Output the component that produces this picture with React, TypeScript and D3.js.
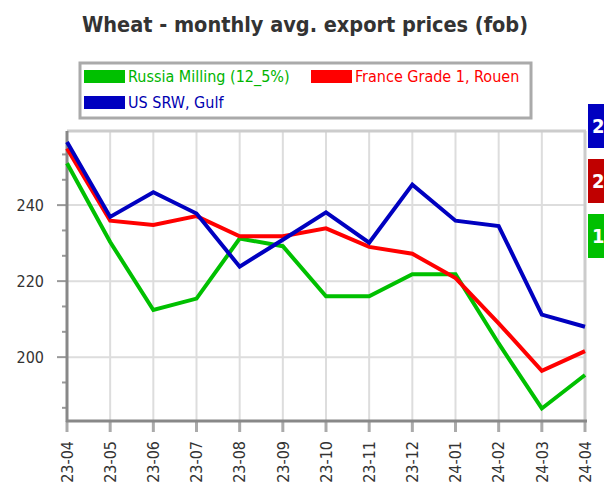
import React from 'react';
import * as d3 from 'd3';

const months = ['23-04', '23-05', '23-06', '23-07', '23-08', '23-09', '23-10', '23-11', '23-12', '24-01', '24-02', '24-03', '24-04'];
const russia = [251, 230.3, 212.4, 215.4, 231.2, 229.2, 216, 216, 221.8, 221.8, 203.6, 186.5, 195.3];
const france = [254.9, 235.9, 234.8, 237.1, 231.8, 231.8, 233.9, 229.0, 227.2, 220.8, 208.9, 196.4, 201.6];
const usSrw = [256.6, 236.9, 243.4, 237.8, 223.8, 230.9, 238.1, 230.1, 245.4, 235.9, 234.5, 211.2, 208.0];
const yTicks = [200, 220, 240];
const seriesNames = ['Russia Milling (12_5%)', 'France Grade 1, Rouen', 'US SRW, Gulf'];

const W = 604, H = 483;
const FONT = '"DejaVu Sans Condensed", "DejaVu Sans", sans-serif';

export default function App() {
  const left = 67, right = 585, top = 131, bottom = 421;
  const x = d3.scalePoint<string>().domain(months).range([left, right]);
  const y = d3.scaleLinear().domain([183.2, 259.5]).range([bottom, top]);
  const minor = d3.range(-2, 9)
    .filter(k => k % 3 !== 0)
    .map(k => 200 + (k * 20) / 3)
    .filter(v => v > 183.2 && v < 259.5);
  const line = d3.line<number>().x((_, i) => x(months[i]) as number).y(d => y(d));

  const series = [
    { name: seriesNames[0], data: russia, color: '#00c000', text: '#00b400', box: '#00c000' },
    { name: seriesNames[1], data: france, color: '#ff0000', text: '#ff0000', box: '#c00000' },
    { name: seriesNames[2], data: usSrw, color: '#0000c0', text: '#0000b0', box: '#0000c0' },
  ];
  const boxOrder = [series[2], series[1], series[0]];

  return (
    <svg width={W} height={H} style={{ position: 'absolute', left: 0, top: 0, background: '#fff' }} fontFamily={FONT}>
      <rect x={0} y={0} width={W} height={H} fill="#fff" />
      <text x={305} y={32} textAnchor="middle" fontSize={21.5} fontWeight="bold" fill="#333">
        Wheat - monthly avg. export prices (fob)
      </text>

      {/* legend */}
      <rect x={80} y={63} width={451} height={55} fill="#fff" stroke="#aaa" strokeWidth={3} />
      {[
        { s: series[0], lx: 84, ly: 70 },
        { s: series[1], lx: 311, ly: 70 },
        { s: series[2], lx: 84, ly: 96 },
      ].map(({ s, lx, ly }) => (
        <g key={s.name}>
          <rect x={lx} y={ly} width={41} height={13} fill={s.color} />
          <text x={lx + 44} y={ly + 12} fontSize={16} fill={s.text}>{s.name}</text>
        </g>
      ))}

      {/* grid */}
      {months.map(m => (
        <line key={'g' + m} x1={x(m)} x2={x(m)} y1={top} y2={bottom} stroke="#ddd" strokeWidth={2} />
      ))}
      {yTicks.map(v => (
        <line key={'gy' + v} x1={left} x2={right} y1={y(v)} y2={y(v)} stroke="#ddd" strokeWidth={2} />
      ))}
      <line x1={left} x2={right + 1} y1={top} y2={top} stroke="#ccc" strokeWidth={3} />
      <line x1={right} x2={right} y1={top} y2={bottom} stroke="#ccc" strokeWidth={3} />

      {/* y axis */}
      {yTicks.map(v => (
        <g key={'yt' + v}>
          <line x1={57} x2={left} y1={y(v)} y2={y(v)} stroke="#999" strokeWidth={2} />
          <text x={44} y={y(v)} dy="0.36em" textAnchor="end" fontSize={16} fill="#333">{v}</text>
        </g>
      ))}
      {minor.map(v => (
        <line key={'ym' + v} x1={62} x2={left} y1={y(v)} y2={y(v)} stroke="#999" strokeWidth={2} />
      ))}
      <line x1={left} x2={left} y1={top} y2={bottom + 1} stroke="#888" strokeWidth={3} />

      {/* x axis */}
      {months.map(m => (
        <g key={'xt' + m}>
          <line x1={x(m)} x2={x(m)} y1={bottom} y2={432} stroke="#aaa" strokeWidth={3} />
          <text transform={`translate(${x(m)},441) rotate(-90)`} dy="0.36em" textAnchor="end" fontSize={16} fill="#333">{m}</text>
        </g>
      ))}
      <line x1={left - 1} x2={right + 2} y1={bottom} y2={bottom} stroke="#888" strokeWidth={3} />

      {/* lines */}
      {series.map(s => (
        <path key={s.name} d={line(s.data) as string} fill="none" stroke={s.color} strokeWidth={4} strokeLinejoin="miter" />
      ))}

      {/* right value boxes (clipped by the right edge, as in the reference) */}
      {boxOrder.map((s, i) => (
        <g key={'b' + s.name}>
          <rect x={588} y={104 + i * 55} width={40} height={44} fill={s.box} />
          <text x={592} y={126 + i * 55} dy="0.36em" fontSize={20} fontWeight="bold" fill="#fff">
            {Math.round(s.data[s.data.length - 1])}
          </text>
        </g>
      ))}
    </svg>
  );
}
